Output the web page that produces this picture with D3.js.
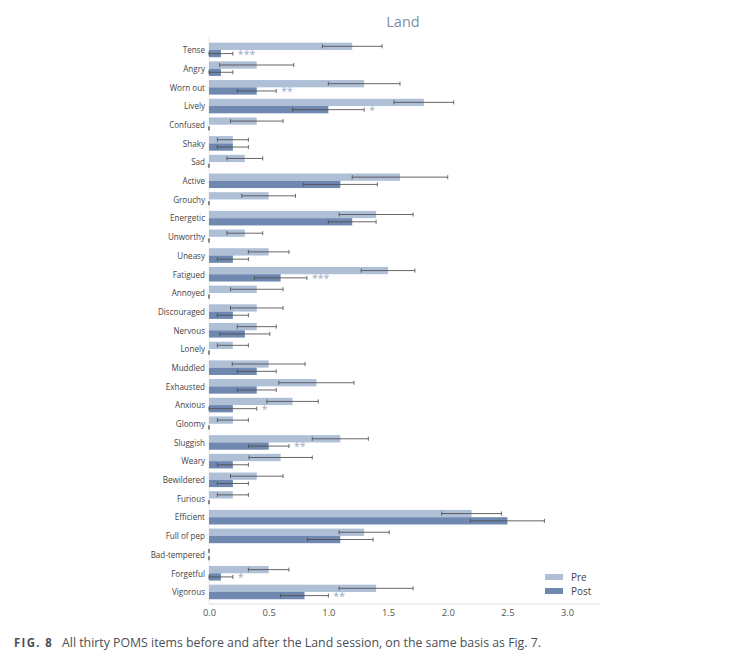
<!DOCTYPE html>
<html>
<head>
<meta charset="utf-8">
<script src="https://cdn.jsdelivr.net/npm/d3@7"></script>
<style>
  body { margin: 0; background: #fff; }
  svg { display: block; font-family: "Open Sans", sans-serif; }
</style>
</head>
<body>
<div id="grafico"></div>
<script>
// POMS items, Land session
const categorias = ["Tense", "Angry", "Worn out", "Lively", "Confused", "Shaky", "Sad", "Active",
  "Grouchy", "Energetic", "Unworthy", "Uneasy", "Fatigued", "Annoyed", "Discouraged", "Nervous",
  "Lonely", "Muddled", "Exhausted", "Anxious", "Gloomy", "Sluggish", "Weary", "Bewildered",
  "Furious", "Efficient", "Full of pep", "Bad-tempered", "Forgetful", "Vigorous"];

const preMedia = [1.2, 0.4, 1.3, 1.8, 0.4, 0.2, 0.3, 1.6, 0.5, 1.4, 0.3, 0.5, 1.5, 0.4, 0.4,
  0.4, 0.2, 0.5, 0.9, 0.7, 0.2, 1.1, 0.6, 0.4, 0.2, 2.2, 1.3, 0, 0.5, 1.4];
const preErro = [0.25, 0.31, 0.3, 0.25, 0.22, 0.13, 0.15, 0.4, 0.225, 0.31, 0.15, 0.17, 0.225, 0.22, 0.22,
  0.163, 0.13, 0.305, 0.315, 0.215, 0.13, 0.235, 0.265, 0.22, 0.13, 0.25, 0.21, 0, 0.17, 0.31];

const postMedia = [0.1, 0.1, 0.4, 1.0, 0, 0.2, 0, 1.1, 0, 1.2, 0, 0.2, 0.6, 0, 0.2,
  0.3, 0, 0.4, 0.4, 0.2, 0, 0.5, 0.2, 0.2, 0, 2.5, 1.1, 0, 0.1, 0.8];
const postErro = [0.1, 0.1, 0.163, 0.3, 0, 0.13, 0, 0.31, 0, 0.2, 0, 0.13, 0.22, 0, 0.13,
  0.21, 0, 0.163, 0.163, 0.2, 0, 0.17, 0.13, 0.13, 0, 0.31, 0.275, 0, 0.1, 0.2];
const postSig = ["***", "", "**", "*", "", "", "", "", "", "", "", "", "***", "", "",
  "", "", "", "", "*", "", "**", "", "", "", "", "", "", "*", "**"];

const ticksX = [0, 0.5, 1.0, 1.5, 2.0, 2.5, 3.0];
const series = ["Pre", "Post"];

const largura = 737, altura = 660;
const corPre = "#aebfd6", corPost = "#6f88b0";

const svg = d3.select("#grafico").append("svg")
  .attr("width", largura).attr("height", altura);

const x = d3.scaleLinear().domain([0, 3.28]).range([209, 600.5]);
const y = d3.scaleBand().domain(categorias).range([40.6, 601.3])
  .paddingInner(0.22).paddingOuter(0.11);
const bw = y.bandwidth();

// linhas dos eixos
svg.append("line").attr("x1", x(0)).attr("x2", x(0)).attr("y1", 37).attr("y2", 604)
  .attr("stroke", "#ececec");
svg.append("line").attr("x1", x(0)).attr("x2", x.range()[1]).attr("y1", 604).attr("y2", 604)
  .attr("stroke", "#dedede");

const dados = categorias.map((c, i) => ({
  c, pre: preMedia[i], preE: preErro[i], post: postMedia[i], postE: postErro[i], sig: postSig[i]
}));

// barras
svg.append("g").selectAll("rect").data(dados).join("rect")
  .attr("x", x(0)).attr("y", d => y(d.c))
  .attr("width", d => x(d.pre) - x(0)).attr("height", bw / 2)
  .attr("fill", corPre);
svg.append("g").selectAll("rect").data(dados).join("rect")
  .attr("x", x(0)).attr("y", d => y(d.c) + bw / 2)
  .attr("width", d => x(d.post) - x(0)).attr("height", bw / 2)
  .attr("fill", corPost);

// barras de erro
function erros(media, erro, dy) {
  const g = svg.append("g").attr("stroke", "#4d4d4d").attr("stroke-width", 1).attr("opacity", 0.85);
  dados.forEach(d => {
    const cy = y(d.c) + dy;
    const a = x(Math.max(0, d[media] - d[erro])), b = x(d[media] + d[erro]);
    g.append("line").attr("x1", a).attr("x2", b).attr("y1", cy).attr("y2", cy);
    g.append("line").attr("x1", a).attr("x2", a).attr("y1", cy - 2).attr("y2", cy + 2);
    g.append("line").attr("x1", b).attr("x2", b).attr("y1", cy - 2).attr("y2", cy + 2);
  });
}
erros("pre", "preE", bw / 4);
erros("post", "postE", bw * 3 / 4);

// asteriscos de significância
svg.append("g").selectAll("text").data(dados.filter(d => d.sig)).join("text")
  .attr("x", d => x(d.post + d.postE) + 5)
  .attr("y", d => y(d.c) + bw * 3 / 4 + 4)
  .attr("font-size", 10.5).attr("fill", "#9aabc6")
  .text(d => d.sig);

// rótulos das categorias
svg.append("g").selectAll("text").data(categorias).join("text")
  .attr("transform", c => `translate(205,${y(c) + bw / 2 + 3.3}) scale(0.86,1)`)
  .attr("text-anchor", "end").attr("font-size", 9.4).attr("fill", "#444")
  .text(c => c);

// eixo X
const eixo = svg.append("g").attr("transform", "translate(0,604)")
  .call(d3.axisBottom(x).tickValues(ticksX).tickFormat(d3.format(".1f")).tickSize(0).tickPadding(5));
eixo.select(".domain").remove();
eixo.selectAll("text").attr("font-size", 9.4).attr("fill", "#555")
  .attr("font-family", "Open Sans, sans-serif")
  .attr("transform", function () { return "scale(1,1)"; });

// título
svg.append("text").attr("x", 403).attr("y", 27).attr("text-anchor", "middle")
  .attr("font-size", 14.5).attr("fill", "#7e8fa8").text("Land");

// legenda
const leg = svg.append("g");
series.forEach((s, i) => {
  leg.append("rect").attr("x", 545).attr("y", 574 + i * 14).attr("width", 18).attr("height", 6)
    .attr("fill", i === 0 ? corPre : corPost);
  leg.append("text").attr("x", 571).attr("y", 580.5 + i * 14).attr("font-size", 10)
    .attr("fill", "#444").text(s);
});

// legenda da figura
svg.append("text").attr("x", 14).attr("y", 647).attr("font-size", 12.5).attr("font-weight", "bold")
  .attr("fill", "#4a4f57").attr("letter-spacing", 1.5)
  .attr("textLength", 39).attr("lengthAdjust", "spacingAndGlyphs").text("FIG. 8");
svg.append("text").attr("x", 62).attr("y", 647).attr("font-size", 12.5).attr("fill", "#4a4f57")
  .attr("textLength", 479).attr("lengthAdjust", "spacingAndGlyphs")
  .text("All thirty POMS items before and after the Land session, on the same basis as Fig. 7.");
</script>
</body>
</html>
